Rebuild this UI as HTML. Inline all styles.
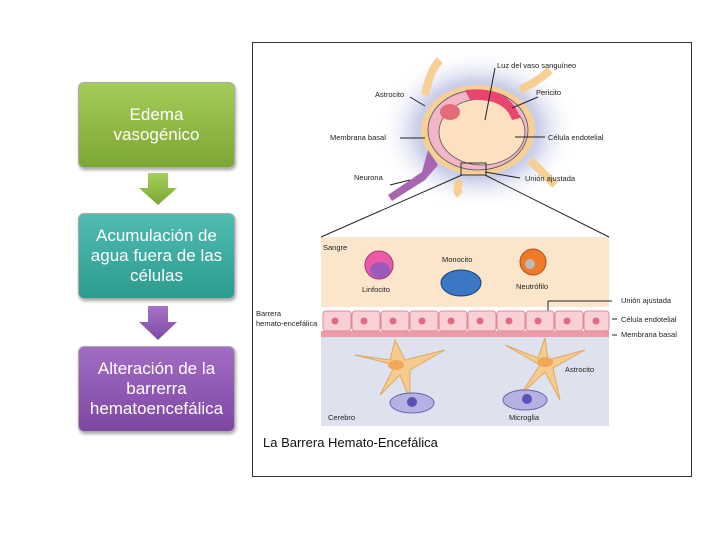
<!DOCTYPE html><html><head><style>
body{margin:0;width:720px;height:540px;background:#fff;position:relative;overflow:hidden;font-family:"Liberation Sans",sans-serif}
.b{position:absolute;left:78px;width:157px;height:86px;border-radius:6px;color:#fff;font-size:17px;line-height:20px;text-align:center;display:flex;align-items:center;justify-content:center;box-shadow:1px 2px 3px rgba(0,0,0,.35);box-sizing:border-box;border:1px solid #aaa}
</style></head><body>
<div class="b" style="top:82px;background:linear-gradient(#a5cc5a,#7ca634)">Edema<br>vasogénico</div>
<div class="b" style="top:213px;background:linear-gradient(#4fbcb0,#2c9c8f)">Acumulación de<br>agua fuera de las<br>células</div>
<div class="b" style="top:346px;background:linear-gradient(#a36cc4,#7d47a3)">Alteración de la<br>barrerra<br>hematoencefálica</div>
<svg style="position:absolute;left:0;top:0" width="720" height="540">
<defs><radialGradient id="g"><stop offset=".6" stop-color="#c9cde8"/><stop offset="1" stop-color="#fff" stop-opacity="0"/></radialGradient>
<linearGradient id="ag" x1="0" y1="0" x2="0" y2="1"><stop offset="0" stop-color="#a8cf5c"/><stop offset="1" stop-color="#7ca634"/></linearGradient>
<linearGradient id="pg" x1="0" y1="0" x2="0" y2="1"><stop offset="0" stop-color="#a774c8"/><stop offset="1" stop-color="#7e4aa3"/></linearGradient></defs>
<polygon points="148,173 168,173 168,188 177,188 158,205 139,188 148,188" fill="url(#ag)"/>
<polygon points="148,306 168,306 168,322 177,322 158,340 139,322 148,322" fill="url(#pg)"/>
<rect x="252.5" y="42.5" width="439" height="434" fill="none" stroke="#333"/>
<ellipse cx="478" cy="130" rx="100" ry="80" fill="url(#g)"/>
<path d="M425,95 Q430,70 440,60 M520,90 Q540,80 550,70 M530,160 Q545,175 555,185 M460,180 Q455,190 460,195" stroke="#f5cf93" stroke-width="8" fill="none"/>
<ellipse cx="478" cy="130" rx="57" ry="45" fill="#f5cf93"/>
<ellipse cx="478" cy="130" rx="50" ry="40" fill="#f2b6c8" stroke="#555" stroke-width="0.8"/>
<ellipse cx="482" cy="132" rx="43" ry="33" fill="#fde0c0" stroke="#555" stroke-width="0.8"/>
<path d="M465,90 Q510,85 520,118 L512,120 Q505,98 470,100Z" fill="#e8456f"/>
<ellipse cx="450" cy="112" rx="10" ry="8" fill="#e56a7a"/>
<path d="M388,195 L422,172 L428,150 L438,165 L425,180 L392,201Z" fill="#a866b0"/>
<rect x="461" y="163" width="25" height="12" fill="none" stroke="#333"/>
<rect x="321" y="237" width="288" height="70" fill="#fbe6cc"/>
<rect x="321" y="337" width="288" height="89" fill="#dde2ee"/>
<rect x="321" y="331" width="288" height="6" fill="#ef9aa8"/>
<g stroke="#222" stroke-width="1">
<line x1="462" y1="175" x2="321" y2="237"/><line x1="485" y1="175" x2="609" y2="237"/>
<line x1="410" y1="97" x2="425" y2="106"/><line x1="400" y1="138" x2="425" y2="138"/>
<line x1="410" y1="180" x2="390" y2="185"/><line x1="495" y1="68" x2="485" y2="120"/>
<line x1="538" y1="97" x2="512" y2="108"/><line x1="545" y1="137" x2="515" y2="137"/>
<line x1="520" y1="178" x2="485" y2="172"/>
<line x1="548" y1="301" x2="612" y2="301"/><line x1="548" y1="301" x2="548" y2="311"/>
<line x1="612" y1="319" x2="617" y2="319"/><line x1="612" y1="335" x2="617" y2="335"/>
</g>
<g fill="#f9d0d6" stroke="#d98b97">
<rect x="323" y="311" width="28" height="20" rx="3"/><rect x="352" y="311" width="28" height="20" rx="3"/><rect x="381" y="311" width="28" height="20" rx="3"/><rect x="410" y="311" width="28" height="20" rx="3"/><rect x="439" y="311" width="28" height="20" rx="3"/><rect x="468" y="311" width="28" height="20" rx="3"/><rect x="497" y="311" width="28" height="20" rx="3"/><rect x="526" y="311" width="28" height="20" rx="3"/><rect x="555" y="311" width="28" height="20" rx="3"/><rect x="584" y="311" width="25" height="20" rx="3"/></g>
<g fill="#e06c80"><circle cx="335" cy="321" r="3.5"/><circle cx="364" cy="321" r="3.5"/><circle cx="393" cy="321" r="3.5"/><circle cx="422" cy="321" r="3.5"/><circle cx="451" cy="321" r="3.5"/><circle cx="480" cy="321" r="3.5"/><circle cx="509" cy="321" r="3.5"/><circle cx="538" cy="321" r="3.5"/><circle cx="567" cy="321" r="3.5"/><circle cx="596" cy="321" r="3.5"/></g>
<circle cx="379" cy="265" r="14" fill="#ea5aa8" stroke="#a8327a"/><ellipse cx="380" cy="270" rx="10" ry="8" fill="#9a5bbd"/>
<ellipse cx="461" cy="283" rx="20" ry="13" fill="#3a78c4" stroke="#1f3f7a"/>
<circle cx="533" cy="262" r="13" fill="#f07a2c" stroke="#b04e1a"/><circle cx="530" cy="264" r="5" fill="#bbb"/>
<g fill="#f6cc8e" stroke="#e0a860"><path d="M355,355 L395,365 L380,395 L400,375 L410,400 L410,370 L445,350 L405,360 L395,340 L390,360Z"/><path d="M505,345 L540,365 L520,395 L545,372 L560,400 L553,368 L585,350 L548,360 L545,338 L538,358Z"/></g>
<ellipse cx="396" cy="365" rx="8" ry="5" fill="#f3a75a"/><ellipse cx="545" cy="362" rx="8" ry="5" fill="#f3a75a"/>
<g fill="#b6b0e3" stroke="#6a62b0"><ellipse cx="412" cy="403" rx="22" ry="10"/><ellipse cx="525" cy="400" rx="22" ry="10"/></g>
<g fill="#5b52b5"><circle cx="412" cy="402" r="5"/><circle cx="527" cy="399" r="5"/></g>
<g font-size="7.5" fill="#222" font-family="Liberation Sans">
<text x="497" y="68">Luz del vaso sanguíneo</text><text x="375" y="97">Astrocito</text><text x="536" y="95">Pericito</text>
<text x="330" y="140">Membrana basal</text><text x="548" y="140">Célula endotelial</text><text x="354" y="180">Neurona</text><text x="525" y="181">Unión ajustada</text>
<text x="323" y="250">Sangre</text><text x="442" y="262">Monocito</text><text x="362" y="292">Linfocito</text><text x="516" y="289">Neutrófilo</text>
<text x="621" y="303">Unión ajustada</text><text x="621" y="322">Célula endotelial</text><text x="621" y="337">Membrana basal</text>
<text x="256" y="316">Barrera</text><text x="256" y="326">hemato-encefálica</text><text x="565" y="372">Astrocito</text>
<text x="328" y="420">Cerebro</text><text x="509" y="420">Microglia</text></g>
<text x="263" y="447" font-size="13" fill="#111">La Barrera Hemato-Encefálica</text>
</svg></body></html>
